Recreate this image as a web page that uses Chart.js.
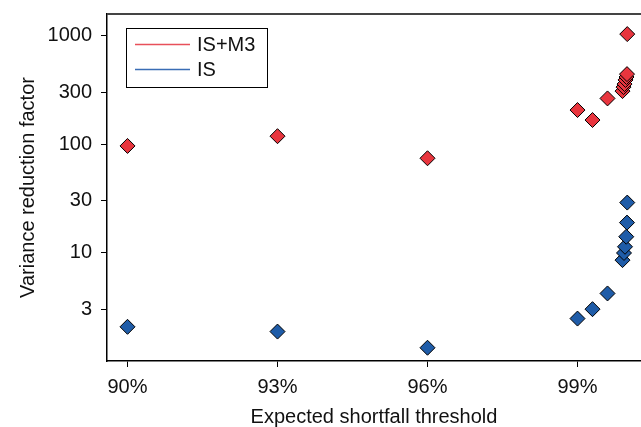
<!DOCTYPE html>
<html>
<head>
<meta charset="utf-8">
<script src="https://cdn.jsdelivr.net/npm/chart.js@4"></script>
<style>
  body { margin: 0; background: #fff; }
  #wrap { width: 641px; height: 427px; position: relative; }
</style>
</head>
<body>
<div id="wrap"><canvas id="graph"></canvas></div>
<script>
const graphRef = document.getElementById('graph');

// Expected shortfall thresholds (%)
const thresholdsM3 = [90, 93, 96, 99, 99.3, 99.6, 99.9, 99.92, 99.94, 99.96, 99.98, 99.99, 99.995];
const thresholdsIS = [90, 93, 96, 99, 99.3, 99.6, 99.9, 99.93, 99.95, 99.975, 99.99, 99.995];

// Variance reduction factors
const isM3Values = [96, 118, 74, 205, 166, 262, 306, 333, 355, 387, 412, 438, 1020];
const isValues = [2.1, 1.9, 1.35, 2.5, 3.05, 4.25, 8.6, 10.0, 11.4, 14.1, 19, 29];

const seriesLabels = ['IS+M3', 'IS'];
const xTicks = [90, 93, 96, 99];
const yTicks = [3, 10, 30, 100, 300, 1000];

const FONT = 'Liberation Sans, Arial, Helvetica, sans-serif';

// Legend box + top frame line drawn inside the plot area
const boxPlugin = {
  id: 'box',
  afterDraw(chart) {
    const { ctx, chartArea } = chart;
    ctx.save();
    // top frame
    ctx.strokeStyle = '#444';
    ctx.lineWidth = 2;
    ctx.beginPath();
    ctx.moveTo(chartArea.left, chartArea.top);
    ctx.lineTo(chartArea.right, chartArea.top);
    ctx.stroke();

    // legend
    const x0 = chartArea.left + 19;
    const y0 = chartArea.top + 14;
    ctx.fillStyle = '#fff';
    ctx.fillRect(x0, y0, 141, 59);
    ctx.strokeStyle = '#000';
    ctx.lineWidth = 1;
    ctx.strokeRect(x0 + 0.5, y0 + 0.5, 141, 59);
    const lineColors = ['#e8505a', '#3a6db5'];
    ctx.font = '20px ' + FONT;
    ctx.textBaseline = 'middle';
    seriesLabels.forEach((label, i) => {
      const y = y0 + 16.5 + i * 25;
      ctx.strokeStyle = lineColors[i];
      ctx.lineWidth = 1.5;
      ctx.beginPath();
      ctx.moveTo(x0 + 9, y);
      ctx.lineTo(x0 + 64, y);
      ctx.stroke();
      ctx.fillStyle = '#111';
      ctx.fillText(label, x0 + 71, y + 1);
    });
    ctx.restore();
  },
};

const toPoints = (xs, ys) => xs.map((x, i) => ({ x, y: ys[i] }));

new Chart(graphRef, {
  type: 'scatter',
  data: {
    datasets: [
      {
        label: seriesLabels[0],
        data: toPoints(thresholdsM3, isM3Values),
        pointStyle: 'rectRot',
        pointRadius: 7.5,
        backgroundColor: '#e8353e',
        borderColor: '#000',
        borderWidth: 1,
      },
      {
        label: seriesLabels[1],
        data: toPoints(thresholdsIS, isValues),
        pointStyle: 'rectRot',
        pointRadius: 7.5,
        backgroundColor: '#1f5ca8',
        borderColor: '#000',
        borderWidth: 1,
      },
    ],
  },
  options: {
    responsive: true,
    maintainAspectRatio: false,
    animation: false,
    layout: { padding: { top: 14, right: 0, bottom: 0, left: 0 }, autoPadding: false },
    plugins: {
      legend: { display: false },
      tooltip: { enabled: false },
    },
    scales: {
      x: {
        type: 'linear',
        min: 89.59,
        max: 100.27,
        afterBuildTicks: (scale) => {
          scale.ticks = xTicks.map((v) => ({ value: v }));
        },
        afterFit: (scale) => {
          scale.height = 66;
          scale.paddingLeft = 0;
          scale.paddingRight = 0;
        },
        ticks: {
          callback: (v) => v + '%',
          font: { family: FONT, size: 20 },
          color: '#111',
          padding: 8,
          maxRotation: 0,
        },
        grid: {
          drawOnChartArea: false,
          tickLength: 6,
          color: '#000',
        },
        border: { color: '#000', width: 1.5 },
        title: {
          display: true,
          text: 'Expected shortfall threshold',
          font: { family: FONT, size: 20 },
          color: '#111',
          padding: { top: 0, bottom: -2 },
        },
      },
      y: {
        type: 'logarithmic',
        min: 1.02,
        max: 1560,
        afterBuildTicks: (scale) => {
          scale.ticks = yTicks.map((v) => ({ value: v }));
        },
        afterFit: (scale) => {
          scale.width = 107;
          scale.paddingTop = 0;
          scale.paddingBottom = 0;
        },
        ticks: {
          callback: (v) => String(v),
          font: { family: FONT, size: 20 },
          color: '#111',
          padding: 9,
        },
        grid: {
          drawOnChartArea: false,
          tickLength: 6,
          color: '#000',
        },
        border: { color: '#000', width: 1.5 },
        title: {
          display: true,
          text: 'Variance reduction factor',
          font: { family: FONT, size: 20 },
          color: '#111',
          padding: { top: 16, bottom: 0 },
        },
      },
    },
  },
  plugins: [boxPlugin],
});
</script>
</body>
</html>
